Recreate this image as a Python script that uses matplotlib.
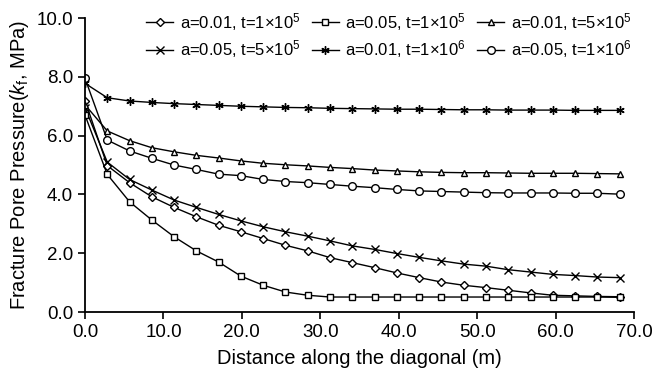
import numpy as np
import matplotlib
matplotlib.use("Agg")
import matplotlib.pyplot as plt

plt.rcParams["font.family"] = ["Liberation Sans", "DejaVu Sans"]
plt.rcParams["mathtext.fontset"] = "custom"
plt.rcParams["mathtext.rm"] = "Liberation Sans"
plt.rcParams["mathtext.it"] = "Liberation Sans:italic"

# distance along the diagonal (m), 25 sample points
dist = [0.0, 2.84, 5.68, 8.52, 11.36, 14.2, 17.04, 19.88, 22.72, 25.56, 28.4, 31.24,
        34.08, 36.92, 39.76, 42.6, 45.44, 48.28, 51.12, 53.96, 56.8, 59.64, 62.48,
        65.32, 68.16]

# a=0.01, t=1e5 (diamond)
p_001_1e5 = [7.19, 4.98, 4.40, 3.92, 3.56, 3.24, 2.95, 2.73, 2.50, 2.27, 2.08, 1.85,
             1.68, 1.51, 1.33, 1.17, 1.02, 0.91, 0.83, 0.74, 0.65, 0.57, 0.55, 0.53, 0.52]
# a=0.05, t=1e5 (square)
p_005_1e5 = [6.70, 4.68, 3.75, 3.13, 2.56, 2.08, 1.70, 1.22, 0.91, 0.68, 0.57, 0.51,
             0.51, 0.51, 0.51, 0.51, 0.51, 0.51, 0.51, 0.51, 0.51, 0.51, 0.51, 0.51, 0.50]
# a=0.01, t=5e5 (triangle)
p_001_5e5 = [7.05, 6.16, 5.83, 5.59, 5.45, 5.33, 5.24, 5.14, 5.06, 5.01, 4.97, 4.92,
             4.88, 4.83, 4.80, 4.77, 4.75, 4.74, 4.74, 4.73, 4.72, 4.72, 4.72, 4.71, 4.70]
# a=0.05, t=5e5 (x)
p_005_5e5 = [6.95, 5.10, 4.51, 4.15, 3.81, 3.56, 3.32, 3.10, 2.90, 2.73, 2.58, 2.42,
             2.25, 2.13, 1.99, 1.86, 1.74, 1.63, 1.56, 1.44, 1.36, 1.28, 1.24, 1.19, 1.17]
# a=0.01, t=1e6 (star)
p_001_1e6 = [7.78, 7.29, 7.18, 7.13, 7.09, 7.06, 7.03, 7.00, 6.98, 6.96, 6.95, 6.93,
             6.92, 6.91, 6.90, 6.90, 6.89, 6.88, 6.88, 6.87, 6.87, 6.87, 6.86, 6.86, 6.86]
# a=0.05, t=1e6 (circle)
p_005_1e6 = [7.95, 5.85, 5.48, 5.23, 5.00, 4.85, 4.69, 4.64, 4.51, 4.44, 4.40, 4.34,
             4.28, 4.23, 4.17, 4.12, 4.10, 4.08, 4.06, 4.05, 4.05, 4.05, 4.04, 4.04, 4.01]

fig = plt.figure(figsize=(6.72, 3.73), dpi=100)
ax = fig.add_axes([0.1265, 0.1635, 0.817, 0.788])

common = dict(color="black", lw=1.0, mfc="white", mec="black", mew=1.0)
series = [
    (p_001_1e5, "D", 3.8, r"a=0.01, t=1$\times$10$^5$"),
    (p_005_5e5, "x", 5.5, r"a=0.05, t=5$\times$10$^5$"),
    (p_005_1e5, "s", 5.0, r"a=0.05, t=1$\times$10$^5$"),
    (p_001_1e6, (6, 2, 0), 6.0, r"a=0.01, t=1$\times$10$^6$"),
    (p_001_5e5, "^", 5.0, r"a=0.01, t=5$\times$10$^5$"),
    (p_005_1e6, "o", 5.5, r"a=0.05, t=1$\times$10$^6$"),
]
for vals, mk, ms, lab in series:
    ax.plot(dist, vals, marker=mk, ms=ms, label=lab, **common)

ax.set_xlim(0, 70)
ax.set_ylim(0, 10)
ax.set_xticks(np.arange(0, 71, 10))
ax.set_yticks(np.arange(0, 10.1, 2))
ax.set_xticklabels([f"{v:.1f}" for v in np.arange(0, 71, 10)])
ax.set_yticklabels([f"{v:.1f}" for v in np.arange(0, 10.1, 2)])
ax.spines["top"].set_visible(False)
ax.spines["right"].set_visible(False)
ax.spines["left"].set_linewidth(1.3)
ax.spines["bottom"].set_linewidth(1.3)
ax.tick_params(direction="out", length=5, width=1.2, labelsize=13.5, colors="black")
ax.set_xlabel("Distance along the diagonal (m)", fontsize=14.5, labelpad=6)
ax.set_ylabel(r"Fracture Pore Pressure($\mathit{k}_\mathrm{f}$, MPa)", fontsize=14.5,
              labelpad=4)

ax.legend(ncol=3, frameon=False, fontsize=12, loc="upper left",
          bbox_to_anchor=(0.112, 1.025), borderaxespad=0, borderpad=0,
          handlelength=1.6, handletextpad=0.4, columnspacing=0.7, labelspacing=0.35)

fig.savefig("out.png", dpi=100)
